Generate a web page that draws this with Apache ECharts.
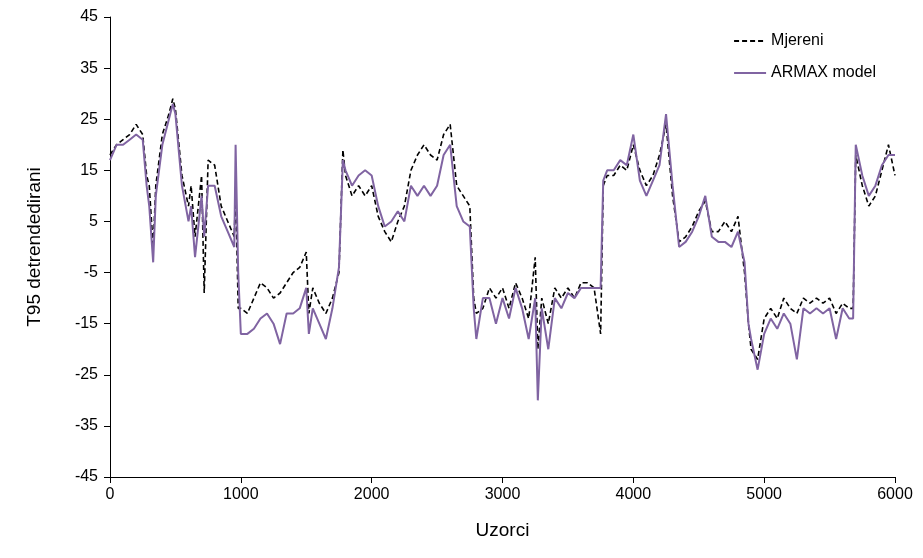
<!DOCTYPE html>
<html><head><meta charset="utf-8">
<script src="https://cdn.jsdelivr.net/npm/echarts@6/dist/echarts.min.js"></script>
<style>html,body{margin:0;padding:0;background:#fff}#c{width:923px;height:558px}</style>
</head><body><div id="c"></div>
<script>
const xs=[0,50,100,150,200,250,280,300,330,350,400,450,480,500,550,600,620,650,700,720,750,800,850,900,950,960,980,1000,1050,1100,1150,1200,1250,1300,1350,1400,1450,1500,1520,1550,1600,1650,1700,1750,1780,1800,1850,1900,1950,2000,2050,2100,2150,2200,2250,2300,2350,2400,2450,2500,2550,2600,2650,2700,2750,2780,2800,2850,2900,2950,3000,3050,3100,3150,3200,3250,3270,3300,3350,3400,3450,3500,3550,3600,3650,3700,3750,3770,3800,3850,3900,3950,4000,4050,4100,4150,4200,4250,4300,4350,4400,4450,4500,4550,4600,4650,4700,4750,4800,4850,4880,4900,4950,5000,5050,5100,5150,5200,5250,5300,5350,5400,5450,5500,5550,5600,5650,5680,5700,5750,5800,5850,5900,5950,6000];
const mjereni=[18,20,21,22,24,22,14,12,0,12,22,26,29,27,14,8,12,2,14,-9,17,16,8,5,2,12,-12,-12,-13,-10,-7,-8,-10,-9,-7,-5,-4,-1,-13,-8,-11,-13,-10,-5,19,14,10,12,10,12,6,3,1,5,8,15,18,20,18,17,22,24,12,10,8,-10,-13,-12,-8,-10,-8,-12,-7,-10,-14,-2,-20,-10,-15,-8,-10,-8,-10,-7,-7,-8,-17,12,14,14,16,15,20,15,12,14,18,24,10,1,2,4,7,9,3,3,5,3,6,-5,-15,-20,-22,-14,-12,-14,-10,-12,-13,-10,-11,-10,-11,-10,-13,-11,-12,-12,18,12,8,10,15,20,14];
const armax=[17,20,20,21,22,21,12,8,-3,10,20,25,28,26,12,5,8,-2,10,2,12,12,6,3,0,20,-5,-17,-17,-16,-14,-13,-15,-19,-13,-13,-12,-8,-17,-12,-15,-18,-12,-4,17,15,12,14,15,14,8,4,5,7,5,12,10,12,10,12,18,20,8,5,4,-12,-18,-10,-10,-15,-10,-14,-8,-12,-18,-10,-30,-12,-20,-10,-12,-9,-10,-8,-8,-8,-8,13,15,15,17,16,22,13,10,13,16,26,12,0,1,3,6,10,2,1,1,0,3,-3,-15,-18,-24,-17,-14,-16,-13,-15,-22,-12,-13,-12,-13,-12,-18,-12,-14,-14,20,14,10,12,16,18,18];
const zip=a=>xs.map((x,i)=>[x,a[i]]);
const font='Liberation Sans, Arial, sans-serif';
const ch=echarts.init(document.getElementById('c'));
ch.setOption({
 animation:false,
 grid:{left:110,right:28,top:17,bottom:81},
 legend:{top:28,right:42,orient:'vertical',itemGap:16,itemWidth:32,textStyle:{fontFamily:font,fontSize:16,color:'#000'},
   itemStyle:{color:'rgba(0,0,0,0)',borderWidth:0},
   data:['Mjereni','ARMAX model']},
 xAxis:{type:'value',min:0,max:6000,interval:1000,name:'Uzorci',nameLocation:'middle',nameGap:44,
   nameTextStyle:{fontFamily:font,fontSize:19,color:'#000'},
   axisLine:{onZero:false,lineStyle:{color:'#000'}},axisTick:{show:true,length:6,lineStyle:{color:'#000'}},
   axisLabel:{fontFamily:font,fontSize:16,color:'#000',margin:10,formatter:v=>String(v)},splitLine:{show:false}},
 yAxis:{type:'value',min:-45,max:45,interval:10,name:'T95 detrendedirani',nameLocation:'middle',nameGap:66,
   nameTextStyle:{fontFamily:font,fontSize:19,color:'#000'},
   axisLine:{show:true,onZero:false,lineStyle:{color:'#000'}},axisTick:{show:true,length:6,lineStyle:{color:'#000'}},
   axisLabel:{fontFamily:font,fontSize:16,color:'#000',margin:12,showMinLabel:true,showMaxLabel:true},splitLine:{show:false}},
 series:[
  {name:'Mjereni',type:'line',data:zip(mjereni),symbol:'none',z:2,lineStyle:{color:'#000',width:1.6,type:[5,3]},itemStyle:{color:'#000'}},
  {name:'ARMAX model',type:'line',data:zip(armax),symbol:'none',z:3,lineStyle:{color:'#8064A2',width:2},itemStyle:{color:'#8064A2'}}
 ]
});
</script></body></html>
